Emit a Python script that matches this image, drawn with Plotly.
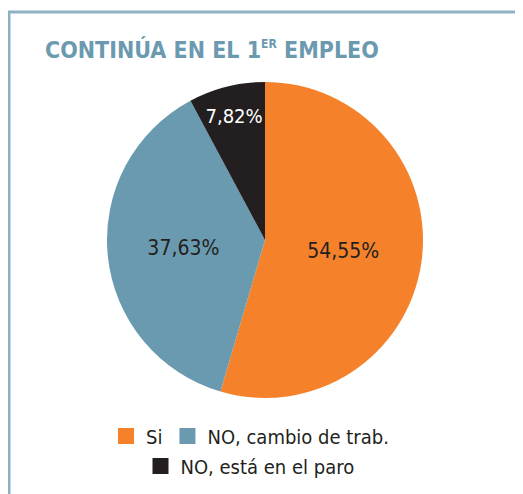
import plotly.graph_objects as go

categories = ["Si", "NO, cambio de trab.", "NO, está en el paro"]
values = [54.55, 37.63, 7.82]
value_labels = ["54,55%", "37,63%", "7,82%"]
colors = ["#F5822A", "#6A9AAF", "#231F20"]
label_colors = ["#231F20", "#231F20", "#FFFFFF"]
legend_rows = ["legend", "legend", "legend2"]

W, H = 523, 494
OFF = 8  # page body margin
FONT = "DejaVu Sans Condensed"

def fx(x):
    return (x - OFF) / W

def fy(y):
    return 1 - (y - OFF) / H

fig = go.Figure()
fig.add_trace(go.Pie(
    labels=categories,
    values=values,
    text=value_labels,
    texttemplate="%{text}",
    textposition="inside",
    insidetextorientation="horizontal",
    textfont=dict(family=FONT, size=21, color=label_colors),
    marker=dict(colors=colors, line=dict(width=0)),
    sort=False,
    direction="clockwise",
    rotation=0,
    showlegend=False,
    domain=dict(x=[fx(107), fx(423)], y=[fy(398), fy(82)]),
))

# legend entries (one per category)
for cat, col, lg in zip(categories, colors, legend_rows):
    fig.add_trace(go.Scatter(
        x=[None], y=[None], mode="markers", name=cat,
        marker=dict(symbol="square", size=16, color=col),
        legend=lg, showlegend=True, hoverinfo="skip",
    ))

legend_font = dict(family=FONT, size=20, color="#231F20")
fig.update_layout(
    width=W, height=H,
    margin=dict(l=0, r=0, t=0, b=0),
    paper_bgcolor="white",
    plot_bgcolor="white",
    xaxis=dict(visible=False),
    yaxis=dict(visible=False),
    title=dict(
        text="<b>CONTINÚA EN EL 1<sup><span style='font-size:12px'>ER</span></sup> EMPLEO</b>",
        font=dict(family=FONT, size=23, color="#6B9AB0"),
        x=(45 - OFF) / W, xanchor="left", xref="container",
        y=1 - (50 - OFF) / H, yanchor="middle", yref="container",
    ),
    legend=dict(
        orientation="h", x=fx(250), xanchor="center",
        y=fy(436), yanchor="middle",
        font=legend_font, bgcolor="rgba(0,0,0,0)",
        itemsizing="trace",
    ),
    legend2=dict(
        orientation="h", x=fx(250), xanchor="center",
        y=fy(466), yanchor="middle",
        font=legend_font, bgcolor="rgba(0,0,0,0)",
        itemsizing="trace",
    ),
    shapes=[
        dict(type="line", xref="paper", yref="paper",
             x0=fx(9), y0=fy(H + 20), x1=fx(9), y1=fy(12),
             line=dict(color="#8DB1C2", width=3)),
        dict(type="line", xref="paper", yref="paper",
             x0=fx(7.5), y0=fy(12), x1=fx(W + 20), y1=fy(12),
             line=dict(color="#8DB1C2", width=3)),
    ],
)

fig.write_html("out.html")
